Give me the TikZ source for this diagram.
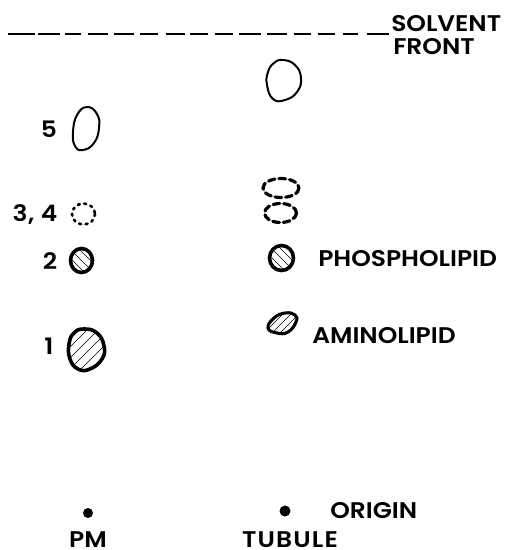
\documentclass[tikz,border=0pt]{standalone}
\usepackage{fontspec}
\setmainfont[FakeStretch=1.1,BoldFont={Poppins SemiBold}]{Poppins}
\begin{document}
\begin{tikzpicture}[x=0.75pt,y=-0.75pt,
  lbl/.style={inner sep=0pt,font=\fontsize{17}{18}\selectfont\bfseries,text=black},
  lblw/.style={lbl,anchor=west},
  spotline/.style={draw=black,line width=1.5pt,line join=round},
  spotthick/.style={draw=black,line width=2.7pt,line join=round},
  hatch/.style={draw=black,line width=0.45pt},
  dashring/.style={draw=black,line width=2.4pt,dash pattern=on 5pt off 3pt,line cap=round},
  dotring/.style={draw=black,line width=2pt,dash pattern=on 1.5pt off 3.4pt,line cap=round},
  frontdash/.style={draw=black,line width=2.1pt},
  origin/.style={fill=black,draw=none}]
\useasboundingbox (0,0) rectangle (504,550);
\fill[white] (0,0) rectangle (504,550);

% solvent front, ruled by hand in uneven strokes
\foreach \a/\b in {8/35,38/60,65/81,88/108,114/134,140/158,166/185,190/208,
                   215/233,239/261,267/287,294/311,318/335,343/358,367/389}
  \draw[frontdash] (\a,34) -- (\b,34);
\node[lblw] (solvent) at (391,24) {SOLVENT};
\node[lblw] (front) at (393,47) {FRONT};

% PM lane
\draw[spotline,smooth cycle,tension=0.8] plot coordinates
  {(87,107) (97,114) (99,128) (94,143) (83,150) (75,146) (73,132) (77,115)};
\node[lbl] (n5) at (49,129) {5};
\draw[dotring] (83.5,214) ellipse [x radius=11.5,y radius=10.5];
\node[lbl] (n34) at (35,215) {\addfontfeature{LetterSpace=2}3, 4};

\begin{scope}
  \clip (81.5,260.5) ellipse [x radius=12,y radius=13];
  \foreach \d in {-18,-9,0,9,18}
    \draw[hatch] (66,{245+\d}) -- (98,{277+\d});
\end{scope}
\draw[spotthick] (81.5,260.5) ellipse [x radius=11,y radius=12];
\node[lbl] (n2) at (50,261) {2};

\begin{scope}
  \clip plot[smooth cycle,tension=0.8] coordinates
  {(84,329) (97,333) (104,346) (102,359) (90,369) (78,369) (70,359) (69,344) (74,333)};
  \foreach \d in {-33,-22,-11,0,11,22,33}
    \draw[hatch] (60,{368+\d}) -- (110,{318+\d});
\end{scope}
\draw[spotthick,smooth cycle,tension=0.8] plot coordinates
  {(84,329) (97,333) (104,346) (102,359) (90,369) (78,369) (70,359) (69,344) (74,333)};
\node[lbl] (n1) at (49,346) {1};

\fill[origin] (88,513) circle [radius=5];
\node[lbl] (pm) at (88,540) {PM};

% tubule lane
\draw[spotline,smooth cycle,tension=0.8] plot coordinates
  {(283,60) (295,65) (301,78) (297,92) (285,100) (273,99) (267,85) (268,72) (274,63)};

\draw[dashring] (281,188) ellipse [x radius=18,y radius=9.5];
\draw[dashring] (280.5,213) ellipse [x radius=16,y radius=9.5];

\begin{scope}
  \clip (281.5,258) ellipse [x radius=13,y radius=13.5];
  \foreach \d in {-18,-9,0,9,18}
    \draw[hatch] (266,{243+\d}) -- (298,{275+\d});
\end{scope}
\draw[spotthick] (281.5,258) ellipse [x radius=12,y radius=12.5];
\node[lblw] (phospho) at (318,259) {PHOSPHOLIPID};

\begin{scope}
  \clip plot[smooth cycle,tension=0.8] coordinates
  {(285,313) (295,315) (296,322) (288,332) (277,333) (268,328) (274,318)};
  \foreach \d in {-16,-8,0,8,16}
    \draw[hatch] (265,{340+\d}) -- (298,{307+\d});
\end{scope}
\draw[spotthick,line width=2.3pt,smooth cycle,tension=0.8] plot coordinates
  {(285,313) (295,315) (296,322) (288,332) (277,333) (268,328) (274,318)};
\node[lblw] (amino) at (312,336) {AMINOLIPID};

\fill[origin] (285,511) circle [radius=5.5];
\node[lblw] (originlabel) at (330,511) {ORIGIN};
\node[lbl] (tubule) at (290,540) {\addfontfeature{LetterSpace=5}TUBULE};
\end{tikzpicture}
\end{document}
